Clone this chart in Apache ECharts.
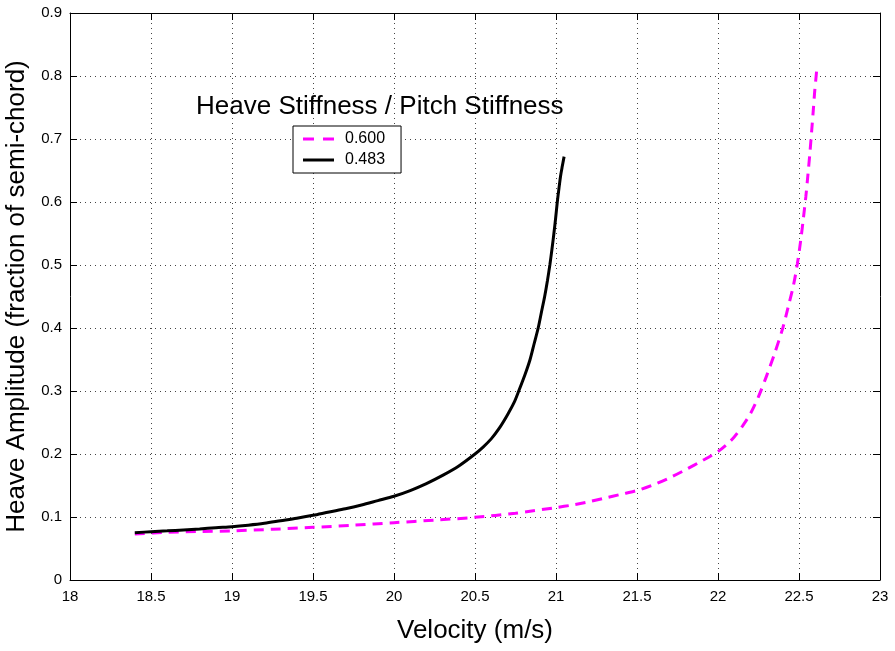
<!DOCTYPE html>
<html><head><meta charset="utf-8">
<script src="https://cdn.jsdelivr.net/npm/echarts@6/dist/echarts.min.js"></script>
<style>html,body{margin:0;padding:0;background:#fff}#c{width:895px;height:651px}</style>
</head><body><div id="c"></div>
<script>
const xTicks = [18, 18.5, 19, 19.5, 20, 20.5, 21, 21.5, 22, 22.5, 23];
const yTicks = [0, 0.1, 0.2, 0.3, 0.4, 0.5, 0.6, 0.7, 0.8, 0.9];
const seriesNames = ['0.600', '0.483'];
const velA = [18.4,18.6,18.8,19.0,19.25,19.5,19.75,20.0,20.25,20.5,20.75,21.0,21.1,21.2,21.3,21.4,21.5,21.6,21.7,21.8,21.9,22.0,22.05,22.1,22.15,22.2,22.25,22.3,22.35,22.4,22.433,22.466,22.49,22.511,22.527,22.542,22.555,22.567,22.578,22.588,22.597,22.604,22.61];
const ampA = [0.073,0.0757,0.077,0.078,0.0805,0.0836,0.087,0.091,0.095,0.0995,0.106,0.115,0.119,0.124,0.130,0.136,0.142,0.151,0.162,0.175,0.189,0.204,0.214,0.227,0.244,0.264,0.291,0.324,0.360,0.400,0.433,0.468,0.502,0.540,0.574,0.608,0.643,0.677,0.712,0.745,0.776,0.795,0.812];
const velB = [18.4,18.5,18.6,18.7,18.8,18.9,19.0,19.1,19.2,19.3,19.4,19.5,19.6,19.7,19.8,19.9,20.0,20.1,20.2,20.3,20.4,20.5,20.55,20.6,20.65,20.7,20.74,20.77,20.81,20.84,20.865,20.89,20.91,20.93,20.947,20.962,20.975,20.987,20.998,21.008,21.018,21.028,21.039,21.05];
const ampB = [0.075,0.0767,0.078,0.0795,0.081,0.083,0.0846,0.087,0.090,0.094,0.098,0.1027,0.108,0.113,0.119,0.126,0.133,0.142,0.153,0.166,0.181,0.200,0.211,0.224,0.241,0.262,0.281,0.300,0.327,0.350,0.375,0.400,0.425,0.450,0.475,0.500,0.525,0.550,0.575,0.600,0.621,0.641,0.657,0.672];

const font = 'Liberation Sans, Arial, Helvetica, sans-serif';
const chart = echarts.init(document.getElementById('c'));
const pairs = (xs, ys) => xs.map((v, i) => [v, ys[i]]);
const gridLine = {show: true, lineStyle: {color: '#444', type: [1, 4], width: 1}};
const tick = {show: true, inside: true, length: 7, lineStyle: {color: '#000'}};
const line = {show: true, onZero: false, lineStyle: {color: '#000', width: 1}};
chart.setOption({
  animation: false,
  backgroundColor: '#fff',
  title: {text: 'Heave Stiffness / Pitch Stiffness', left: 191, top: 89,
    textStyle: {fontFamily: font, fontSize: 26, fontWeight: 'normal', color: '#000'}},
  legend: {
    data: [
      {name: seriesNames[0], icon: 'path://M0,0h11v3h-11z M20,0h11v3h-11z'},
      {name: seriesNames[1], icon: 'path://M0,0h31v3h-31z'}
    ],
    orient: 'vertical', left: 293, top: 126,
    backgroundColor: '#fff', borderColor: '#000', borderWidth: 1,
    padding: [5, 16, 5, 10], itemGap: 5, itemWidth: 31, itemHeight: 3,
    textStyle: {fontFamily: font, fontSize: 16, color: '#000', padding: [0, 0, 0, 6]}
  },
  grid: {left: 70, right: 15, top: 13, bottom: 71, outerBoundsMode: 'none', containLabel: false},
  xAxis: [{
    type: 'value', min: 18, max: 23, interval: 0.5,
    name: 'Velocity (m/s)', nameLocation: 'middle', nameGap: 38,
    nameTextStyle: {fontFamily: font, fontSize: 26, color: '#000'},
    axisLine: line, axisTick: tick,
    axisLabel: {fontFamily: font, fontSize: 15, color: '#000', margin: 9,
      formatter: v => xTicks.includes(v) ? String(v) : ''},
    splitLine: gridLine
  }, {
    type: 'value', min: 18, max: 23, interval: 0.5, position: 'top',
    axisLine: line, axisTick: tick, axisLabel: {show: false}, splitLine: {show: false}
  }],
  yAxis: [{
    type: 'value', min: 0, max: 0.9, interval: 0.1,
    name: 'Heave Amplitude (fraction of semi-chord)', nameLocation: 'middle', nameGap: 35,
    nameTextStyle: {fontFamily: font, fontSize: 26, color: '#000'},
    axisLine: line, axisTick: tick,
    axisLabel: {fontFamily: font, fontSize: 15, color: '#000', margin: 8,
      formatter: v => { const r = Math.round(v * 10) / 10; return yTicks.includes(r) ? String(r) : ''; }},
    splitLine: gridLine
  }, {
    type: 'value', min: 0, max: 0.9, interval: 0.1, position: 'right',
    axisLine: line, axisTick: tick, axisLabel: {show: false}, splitLine: {show: false}
  }],
  series: [{
    name: seriesNames[0], type: 'line', data: pairs(velA, ampA), smooth: 0.3,
    showSymbol: false, symbol: 'none', color: '#ff00ff',
    lineStyle: {color: '#ff00ff', width: 3, type: [10, 7]}
  }, {
    name: seriesNames[1], type: 'line', data: pairs(velB, ampB), smooth: 0.3,
    showSymbol: false, symbol: 'none', color: '#000',
    lineStyle: {color: '#000', width: 3}
  }, {
    name: 'frame', type: 'line', xAxisIndex: 1, yAxisIndex: 1, data: [],
    showSymbol: false, silent: true
  }]
});
</script>
</body></html>
